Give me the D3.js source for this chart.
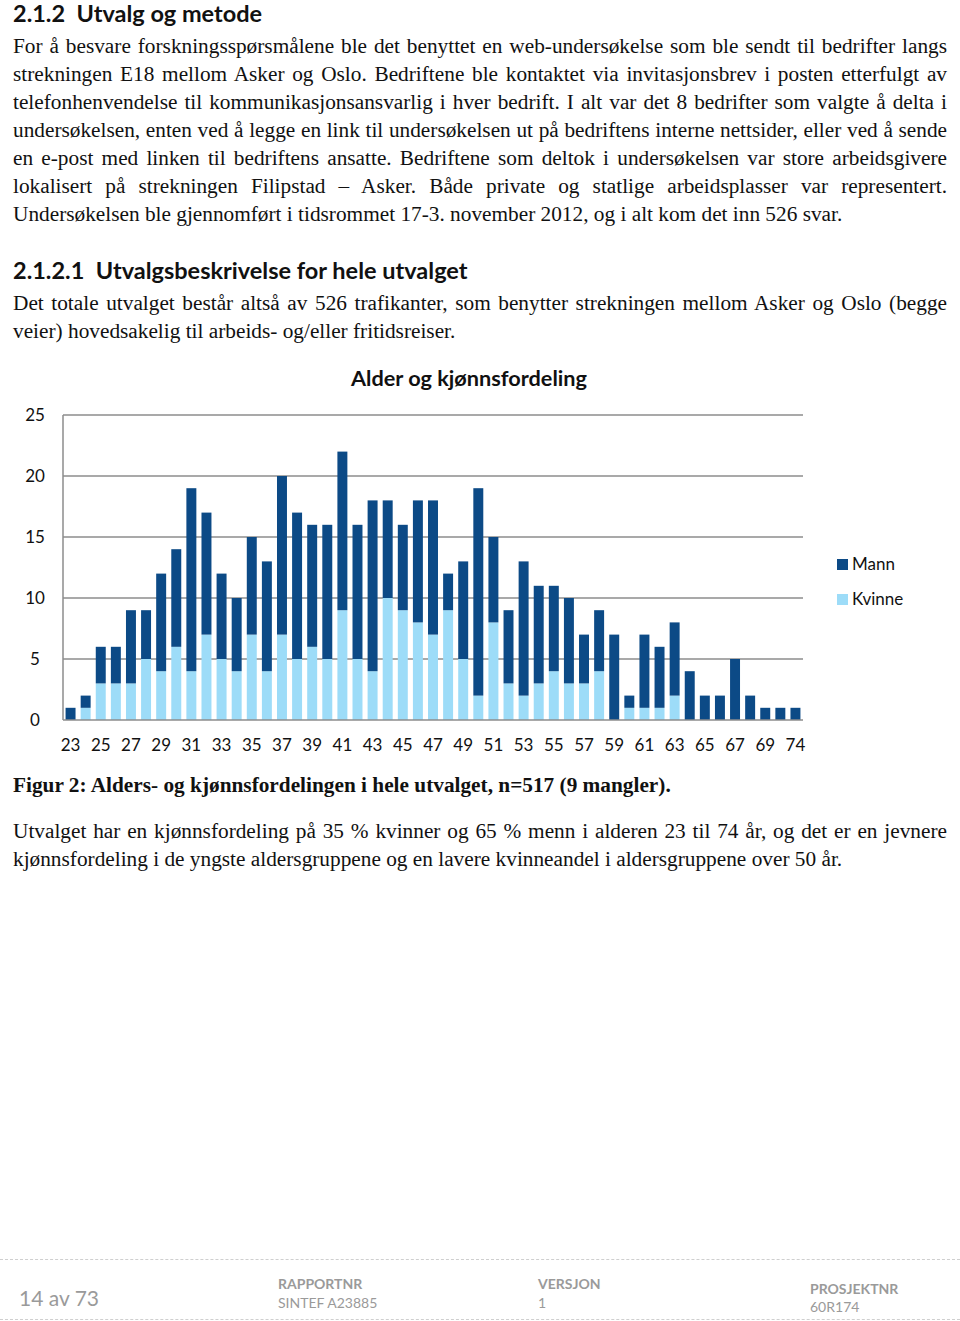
<!DOCTYPE html>
<html>
<head>
<meta charset="utf-8">
<script src="https://cdn.jsdelivr.net/npm/d3@7"></script>
<style>
  html, body { margin: 0; padding: 0; background: #fff; }
  body { width: 960px; height: 1321px; position: relative; overflow: hidden; }
  .h { position: absolute; left: 13px; font-family: Lato, "Open Sans", sans-serif; font-weight: 700; color: #111; white-space: nowrap; line-height: 26px; }
  .p { position: absolute; left: 13px; width: 934px; font-family: "Liberation Serif", "DejaVu Serif", serif; font-size: 21.3px; line-height: 28px; color: #111; }
  .p .l { white-space: nowrap; text-align: justify; text-align-last: justify; height: 28px; }
  .p .l.last { text-align-last: left; }
  .cap { position: absolute; left: 13px; font-family: "Liberation Serif", serif; font-weight: bold; font-size: 21.3px; color: #111; white-space: nowrap; }
  .f { position: absolute; font-family: Lato, "Open Sans", sans-serif; color: #9a9a9a; white-space: nowrap; }
  .dash { position: absolute; left: 0; width: 960px; height: 0; border-top: 1px dashed #cfcfcf; }
</style>
</head>
<body>
<div class="h" style="top:0px;font-size:23.5px;">2.1.2&nbsp;&nbsp;Utvalg og metode</div>
<div class="p" style="top:32px;">
  <div class="l">For å besvare forskningsspørsmålene ble det benyttet en web-undersøkelse som ble sendt til bedrifter langs</div>
  <div class="l">strekningen E18 mellom Asker og Oslo. Bedriftene ble kontaktet via invitasjonsbrev i posten etterfulgt av</div>
  <div class="l">telefonhenvendelse til kommunikasjonsansvarlig i hver bedrift. I alt var det 8 bedrifter som valgte å delta i</div>
  <div class="l">undersøkelsen, enten ved å legge en link til undersøkelsen ut på bedriftens interne nettsider, eller ved å sende</div>
  <div class="l">en e-post med linken til bedriftens ansatte. Bedriftene som deltok i undersøkelsen var store arbeidsgivere</div>
  <div class="l">lokalisert på strekningen Filipstad – Asker. Både private og statlige arbeidsplasser var representert.</div>
  <div class="l last">Undersøkelsen ble gjennomført i tidsrommet 17-3. november 2012, og i alt kom det inn 526 svar.</div>
</div>
<div class="h" style="top:257px;font-size:23.5px;">2.1.2.1&nbsp;&nbsp;Utvalgsbeskrivelse for hele utvalget</div>
<div class="p" style="top:289px;">
  <div class="l">Det totale utvalget består altså av 526 trafikanter, som benytter strekningen mellom Asker og Oslo (begge</div>
  <div class="l last">veier) hovedsakelig til arbeids- og/eller fritidsreiser.</div>
</div>

<svg id="chart" width="960" height="780" style="position:absolute;left:0;top:0;"></svg>

<div class="cap" style="top:773px;">Figur 2: Alders- og kjønnsfordelingen i hele utvalget, n=517 (9 mangler).</div>
<div class="p" style="top:817px;">
  <div class="l">Utvalget har en kjønnsfordeling på 35 % kvinner og 65 % menn i alderen 23 til 74 år, og det er en jevnere</div>
  <div class="l last">kjønnsfordeling i de yngste aldersgruppene og en lavere kvinneandel i aldersgruppene over 50 år.</div>
</div>

<div class="dash" style="top:1259px;"></div>
<div class="dash" style="top:1319px;"></div>
<div class="f" style="left:19px;top:1285px;font-size:21px;">14 av 73</div>
<div class="f" style="left:278px;top:1275px;font-size:14px;font-weight:700;">RAPPORTNR</div>
<div class="f" style="left:278px;top:1294px;font-size:14px;">SINTEF A23885</div>
<div class="f" style="left:538px;top:1275px;font-size:14px;font-weight:700;">VERSJON</div>
<div class="f" style="left:538px;top:1294px;font-size:14px;">1</div>
<div class="f" style="left:810px;top:1280px;font-size:14px;font-weight:700;">PROSJEKTNR</div>
<div class="f" style="left:810px;top:1298px;font-size:14px;">60R174</div>

<script>
// ---- Data ----
const ages = ["23","24","25","26","27","28","29","30","31","32","33","34","35","36","37","38","39","40",
  "41","42","43","44","45","46","47","48","49","50","51","52","53","54","55","56","57","58","59","60",
  "61","62","63","64","65","66","67","68","69","70","74"];
const total = [1,2,6,6,9,9,12,14,19,17,12,10,15,13,20,17,16,16,
  22,16,18,18,16,18,18,12,13,19,15,9,13,11,11,10,7,9,7,2,
  7,6,8,4,2,2,5,2,1,1,1];
const kvinne = [0,1,3,3,3,5,4,6,4,7,5,4,7,4,7,5,6,5,
  9,5,4,10,9,8,7,9,5,2,8,3,2,3,4,3,3,4,0,1,
  1,1,2,0,0,0,0,0,0,0,0];
const mann = total.map((t, i) => t - kvinne[i]);
const yTicks = [0, 5, 10, 15, 20, 25];
const seriesNames = ["Mann", "Kvinne"];
const colors = { Mann: "#0c4a86", Kvinne: "#9ddcf8" };
const chartTitle = "Alder og kjønnsfordeling";

// ---- Chart ----
const svg = d3.select("#chart");
const m = { left: 63, right: 803, top: 415, bottom: 720 };

const x = d3.scaleBand().domain(ages).range([m.left, m.right]).paddingInner(0.34).paddingOuter(0.17);
const y = d3.scaleLinear().domain([0, 25]).range([m.bottom, m.top]);

const font = "Lato, 'Open Sans', sans-serif";

svg.append("text").attr("x", 469).attr("y", 386).attr("text-anchor", "middle")
  .attr("font-family", font).attr("font-weight", 700).attr("font-size", 21.7).attr("fill", "#111")
  .text(chartTitle);

// gridlines
svg.append("g").selectAll("line").data(yTicks.filter(d => d > 0)).join("line")
  .attr("x1", m.left).attr("x2", m.right)
  .attr("y1", d => y(d)).attr("y2", d => y(d))
  .attr("stroke", "#8c8c8c").attr("stroke-width", 1.5);

// y axis labels
const yAxis = d3.axisLeft(y).tickValues(yTicks).tickSize(0).tickPadding(0);
const gy = svg.append("g").attr("transform", `translate(45,0)`).call(yAxis);
gy.select(".domain").remove();
gy.selectAll("text").attr("font-family", font).attr("font-size", 17).attr("fill", "#111")
  .attr("text-anchor", "middle").attr("x", -10);

// stacked bars
const stackData = ages.map((a, i) => ({ age: a, Kvinne: kvinne[i], Mann: mann[i] }));
const stack = d3.stack().keys(["Kvinne", "Mann"])(stackData);
svg.append("g").selectAll("g").data(stack).join("g")
  .attr("fill", d => colors[d.key])
  .selectAll("rect").data(d => d).join("rect")
  .attr("x", d => x(d.data.age))
  .attr("width", x.bandwidth())
  .attr("y", d => y(d[1]))
  .attr("height", d => y(d[0]) - y(d[1]));

// axis lines
svg.append("line").attr("x1", m.left).attr("x2", m.left).attr("y1", m.top).attr("y2", m.bottom)
  .attr("stroke", "#8c8c8c").attr("stroke-width", 1.5);
svg.append("line").attr("x1", m.left).attr("x2", m.right).attr("y1", m.bottom).attr("y2", m.bottom)
  .attr("stroke", "#8c8c8c").attr("stroke-width", 1.5);

// x axis labels (every other category)
const xAxis = d3.axisBottom(x).tickValues(ages.filter((a, i) => i % 2 === 0)).tickSize(0).tickPadding(0);
const gx = svg.append("g").attr("transform", `translate(0,${m.bottom})`).call(xAxis);
gx.select(".domain").remove();
gx.selectAll("text").attr("font-family", font).attr("font-size", 17).attr("fill", "#111").attr("y", 19);

// legend
const lg = svg.append("g");
seriesNames.forEach((s, i) => {
  lg.append("rect").attr("x", 837).attr("y", 559 + i * 35).attr("width", 11).attr("height", 11).attr("fill", colors[s]);
  lg.append("text").attr("x", 852).attr("y", 570 + i * 35).attr("font-family", font).attr("font-size", 17)
    .attr("fill", "#111").text(s);
});
</script>
</body>
</html>
